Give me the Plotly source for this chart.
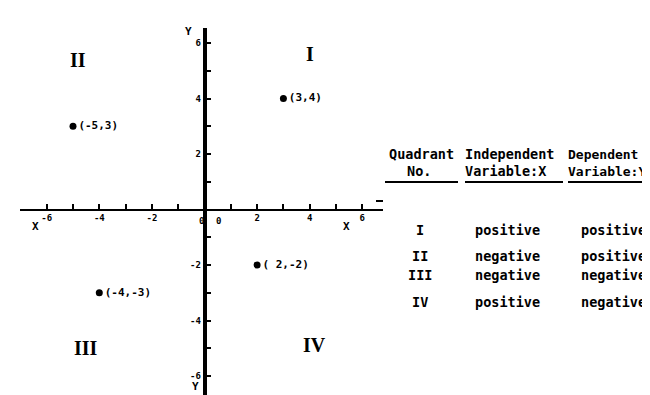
import plotly.graph_objects as go

# ── Data ──────────────────────────────────────────────────────────────────────

point_x = [3, -5, 2, -4]
point_y = [4, 3, -2, -3]
point_labels = ["(3,4)", "(-5,3)", "( 2,-2)", "(-4,-3)"]

x_tick_vals = [-6, -5, -4, -3, -2, -1, 1, 2, 3, 4, 5, 6]
x_tick_text = ["-6", "", "-4", "", "-2", "", "", "2", "", "4", "", "6"]
y_tick_vals = [-6, -5, -4, -3, -2, -1, 1, 2, 3, 4, 5, 6]
y_tick_text = ["-6", "", "-4", "", "-2", "", "", "2", "", "4", "", "6"]

quadrant_names = ["I", "II", "III", "IV"]
quadrant_label_x = [4.0, -4.8, -4.5, 4.2]
quadrant_label_y = [5.6, 5.4, -5.0, -4.9]

table_quadrant = ["I", "II", "III", "IV"]
table_independent = ["positive", "negative", "negative", "positive"]
table_dependent = ["positive", "positive", "negative", "negative"]

# ── Geometry (pixels of the 650x395 page) ─────────────────────────────────────

W, H = 650, 395
X0_PX, X_UNIT = 196.5, 26.3      # pixel of x=0, pixels per unit
Y0_PX, Y_UNIT = 201.5, 27.75     # pixel of y=0, pixels per unit
X_LEFT_PX, X_RIGHT_PX = 12, 375
Y_TOP_PX, Y_BOT_PX = 20, 395

MONO = "DejaVu Sans Mono"
INK = "black"


def px(x):
    return x / W


def py(y):
    return 1 - y / H


fig = go.Figure()

fig.add_trace(
    go.Scatter(
        x=point_x, y=point_y,
        mode="markers+text",
        text=[f"<b>{t}</b>" for t in point_labels],
        textposition="middle right",
        textfont=dict(family=MONO, size=11, color=INK),
        marker=dict(color=INK, size=7),
        hoverinfo="skip",
        showlegend=False,
        cliponaxis=False,
    )
)

for name, qx, qy in zip(quadrant_names, quadrant_label_x, quadrant_label_y):
    fig.add_annotation(
        x=qx, y=qy, xref="x", yref="y", text=f"<b>{name}</b>",
        showarrow=False,
        font=dict(family="Liberation Serif", size=20, color=INK),
    )

# axis letters and the two zero labels
for text, ax, ay in [("X", 23, 219), ("X", 338, 219), ("Y", 176, 16), ("Y", 183, 386)]:
    fig.add_annotation(
        x=px(ax), y=py(ay), xref="paper", yref="paper", text=f"<b>{text}</b>",
        showarrow=False, font=dict(family=MONO, size=11, color=INK),
        borderpad=0,
    )
for ax in (189, 206):
    fig.add_annotation(
        x=px(ax), y=py(213), xref="paper", yref="paper", text="<b>0</b>",
        showarrow=False, font=dict(family=MONO, size=9, color=INK),
    )

# ── Table ─────────────────────────────────────────────────────────────────────

TFONT = dict(family=MONO, size=13.5, color=INK)


def cell(text, x, y, anchor="left", size=None):
    font = dict(TFONT, size=size) if size else TFONT
    fig.add_annotation(
        x=px(x), y=py(y), xref="paper", yref="paper", text=f"<b>{text}</b>",
        showarrow=False, xanchor=anchor, font=font, borderpad=0,
    )


cell("Quadrant", 413, 146, "center")
cell("No.", 411, 163, "center")
cell("Independent", 456, 146)
cell("Variable:X", 456, 163)
cell("Dependent", 559, 146, size=13)
cell("Variable:Y", 559, 163, size=13)

row_y = [222, 248, 276, 303]
for q, ind, dep, ry in zip(table_quadrant, table_independent, table_dependent, row_y):
    cell(q, 412, ry, "center")
    cell(ind, 466, ry)
    cell(dep, 572, ry)

for x_a, x_b in [(377, 450), (457, 555), (560, 650)]:
    fig.add_shape(
        type="line", xref="paper", yref="paper",
        x0=px(x_a), x1=px(x_b), y0=py(174), y1=py(174),
        line=dict(color=INK, width=2),
    )
fig.add_shape(
    type="line", xref="paper", yref="paper",
    x0=px(368), x1=px(375), y0=py(193), y1=py(193),
    line=dict(color=INK, width=2),
)

# ── Axes ──────────────────────────────────────────────────────────────────────

x_range = [(X_LEFT_PX - X0_PX) / X_UNIT, (X_RIGHT_PX - X0_PX) / X_UNIT]
y_range = [(Y0_PX - Y_BOT_PX) / Y_UNIT, (Y0_PX - Y_TOP_PX) / Y_UNIT]

fig.update_xaxes(
    domain=[px(X_LEFT_PX), px(X_RIGHT_PX)],
    range=x_range,
    anchor="free", position=py(Y0_PX),
    showline=True, linecolor=INK, linewidth=2,
    showgrid=False, zeroline=False,
    tickmode="array", tickvals=x_tick_vals, ticktext=[f"<b>{t}</b>" for t in x_tick_text],
    ticks="inside", ticklen=5, tickwidth=2, tickcolor=INK,
    tickfont=dict(family=MONO, size=9, color=INK),
    fixedrange=True,
)
fig.update_yaxes(
    domain=[py(Y_BOT_PX), py(Y_TOP_PX)],
    range=y_range,
    anchor="free", position=px(X0_PX),
    showline=True, linecolor=INK, linewidth=3.5,
    showgrid=False, zeroline=False,
    tickmode="array", tickvals=y_tick_vals, ticktext=[f"<b>{t}</b>" for t in y_tick_text],
    ticks="inside", ticklen=5, tickwidth=2, tickcolor=INK,
    tickfont=dict(family=MONO, size=9, color=INK),
    fixedrange=True,
)

fig.update_layout(
    width=W, height=H,
    margin=dict(l=0, r=0, t=0, b=0),
    plot_bgcolor="white",
    paper_bgcolor="white",
    showlegend=False,
)

fig.write_html("out.html", config={"displayModeBar": False})
